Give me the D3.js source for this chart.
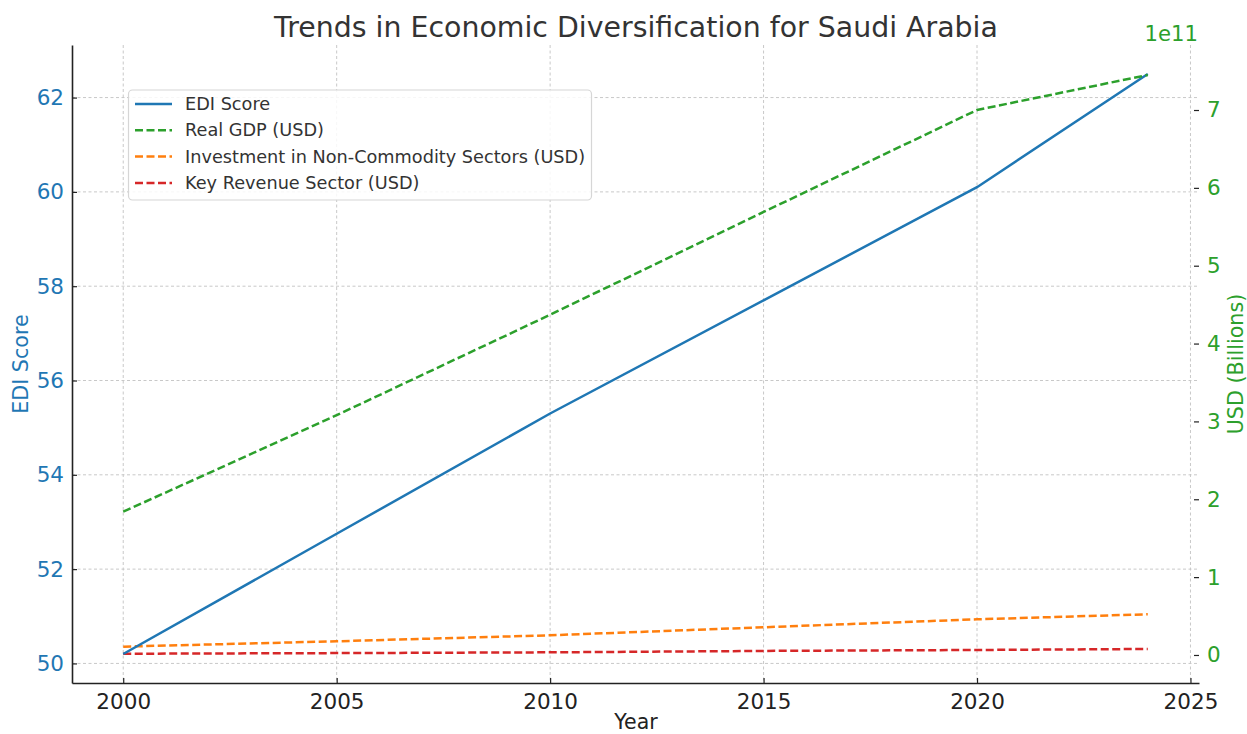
<!DOCTYPE html>
<html><head><meta charset="utf-8">
<script src="https://cdn.jsdelivr.net/npm/d3@7"></script>
<style>
body{margin:0;background:#fff;}
svg{display:block;font-family:"DejaVu Sans",sans-serif;}
</style></head>
<body>
<svg id="chart" width="1247" height="734"></svg>
<script>
const years = [2000, 2005, 2010, 2015, 2020, 2024];
const ediScore = [50.2, 52.75, 55.3, 57.7, 60.1, 62.5];
const realGDP = [1.84e11, 3.08e11, 4.37e11, 5.69e11, 7.0e11, 7.45e11];
const investment = [1.07e10, 1.76e10, 2.53e10, 3.56e10, 4.58e10, 5.23e10];
const keyRevenue = [1.6e9, 2.4e9, 3.4e9, 5.2e9, 6.4e9, 7.7e9];
const xTicks = [2000, 2005, 2010, 2015, 2020, 2025];
const leftTicks = [50, 52, 54, 56, 58, 60, 62];
const rightTicks = [0, 1, 2, 3, 4, 5, 6, 7];
const seriesNames = ["EDI Score", "Real GDP (USD)", "Investment in Non-Commodity Sectors (USD)", "Key Revenue Sector (USD)"];
const colors = ["#1f77b4", "#2ca02c", "#ff7f0e", "#d62728"];

const svg = d3.select("#chart");
const L = 72, R = 1199, T = 45, B = 683;

const x = d3.scaleLinear().domain([1998.8, 2025.2]).range([L, R]);
const yL = d3.scaleLinear().domain([49.585, 63.115]).range([B, T]);
const yR = d3.scaleLinear().domain([-0.36e11, 7.835e11]).range([B, T]);

// grid
const g = svg.append("g");
g.selectAll("line.vg").data(xTicks).join("line")
  .attr("x1", d => x(d)).attr("x2", d => x(d)).attr("y1", T).attr("y2", B)
  .attr("stroke", "#c8c8c8").attr("stroke-width", 1).attr("stroke-dasharray", "3,2.5");
g.selectAll("line.hg").data(leftTicks).join("line")
  .attr("x1", L).attr("x2", R).attr("y1", d => yL(d)).attr("y2", d => yL(d))
  .attr("stroke", "#c8c8c8").attr("stroke-width", 1).attr("stroke-dasharray", "3,2.5");

// lines
const lineL = d3.line().x((d, i) => x(years[i])).y(d => yL(d));
const lineR = d3.line().x((d, i) => x(years[i])).y(d => yR(d));
const dash = "8,3.5";
const lw = 2.5;
svg.append("path").datum(keyRevenue).attr("d", lineR).attr("fill", "none")
  .attr("stroke", colors[3]).attr("stroke-width", lw).attr("stroke-dasharray", dash);
svg.append("path").datum(investment).attr("d", lineR).attr("fill", "none")
  .attr("stroke", colors[2]).attr("stroke-width", lw).attr("stroke-dasharray", dash);
svg.append("path").datum(ediScore).attr("d", lineL).attr("fill", "none")
  .attr("stroke", colors[0]).attr("stroke-width", lw);
svg.append("path").datum(realGDP).attr("d", lineR).attr("fill", "none")
  .attr("stroke", colors[1]).attr("stroke-width", lw).attr("stroke-dasharray", dash);

// axes
const fs = 21.5;
const axB = svg.append("g").attr("transform", `translate(0,${B})`)
  .call(d3.axisBottom(x).tickValues(xTicks).tickFormat(d3.format("d")).tickSizeInner(-5).tickSizeOuter(0).tickPadding(11));
axB.select(".domain").attr("stroke", "#222").attr("stroke-width", 1.6);
axB.selectAll(".tick line").attr("stroke", "#222").attr("stroke-width", 1.2);
axB.selectAll(".tick text").attr("fill", "#222").attr("font-size", fs).attr("font-family", "DejaVu Sans");

const axL = svg.append("g").attr("transform", `translate(${L},0)`)
  .call(d3.axisLeft(yL).tickValues(leftTicks).tickFormat(d3.format("d")).tickSizeInner(-5).tickSizeOuter(0).tickPadding(8));
axL.select(".domain").attr("stroke", "#222").attr("stroke-width", 1.6);
axL.selectAll(".tick line").attr("stroke", "#222").attr("stroke-width", 1.2);
axL.selectAll(".tick text").attr("fill", colors[0]).attr("font-size", fs).attr("font-family", "DejaVu Sans");

const axR = svg.append("g").attr("transform", `translate(${R},0)`)
  .call(d3.axisRight(yR).tickValues(rightTicks.map(d => d * 1e11)).tickFormat(d => d3.format("d")(d / 1e11)).tickSizeInner(-5).tickSizeOuter(0).tickPadding(8));
axR.select(".domain").remove();
axR.selectAll(".tick line").attr("stroke", "#222").attr("stroke-width", 1.2);
axR.selectAll(".tick text").attr("fill", colors[1]).attr("font-size", fs).attr("font-family", "DejaVu Sans");

// labels
svg.append("text").attr("x", 636).attr("y", 37).attr("text-anchor", "middle")
  .attr("font-size", 28.4).attr("fill", "#333").text("Trends in Economic Diversification for Saudi Arabia");
svg.append("text").attr("x", 636).attr("y", 729).attr("text-anchor", "middle")
  .attr("font-size", 20.5).attr("fill", "#222").text("Year");
svg.append("text").attr("transform", "translate(28,364) rotate(-90)").attr("text-anchor", "middle")
  .attr("font-size", 20.7).attr("fill", colors[0]).text("EDI Score");
svg.append("text").attr("transform", "translate(1243,364) rotate(-90)").attr("text-anchor", "middle")
  .attr("font-size", 20.7).attr("fill", colors[1]).text("USD (Billions)");
svg.append("text").attr("x", 1198).attr("y", 41).attr("text-anchor", "end")
  .attr("font-size", 21.2).attr("fill", colors[1]).text("1e11");

// legend
const lg = svg.append("g");
lg.append("rect").attr("x", 128.5).attr("y", 90).attr("width", 463).attr("height", 110)
  .attr("rx", 4).attr("fill", "#fff").attr("fill-opacity", 0.85).attr("stroke", "#d6d6d6").attr("stroke-width", 1.2);
const rows = lg.selectAll("g.row").data(seriesNames).join("g")
  .attr("transform", (d, i) => `translate(0,${104 + i * 26.3})`);
rows.append("line").attr("x1", 135).attr("x2", 172).attr("y1", 0).attr("y2", 0)
  .attr("stroke", (d, i) => colors[i]).attr("stroke-width", lw)
  .attr("stroke-dasharray", (d, i) => i === 0 ? null : dash);
rows.append("text").attr("x", 185).attr("y", 6).attr("font-size", 17.7).attr("fill", "#333").text(d => d);
</script>
</body></html>
